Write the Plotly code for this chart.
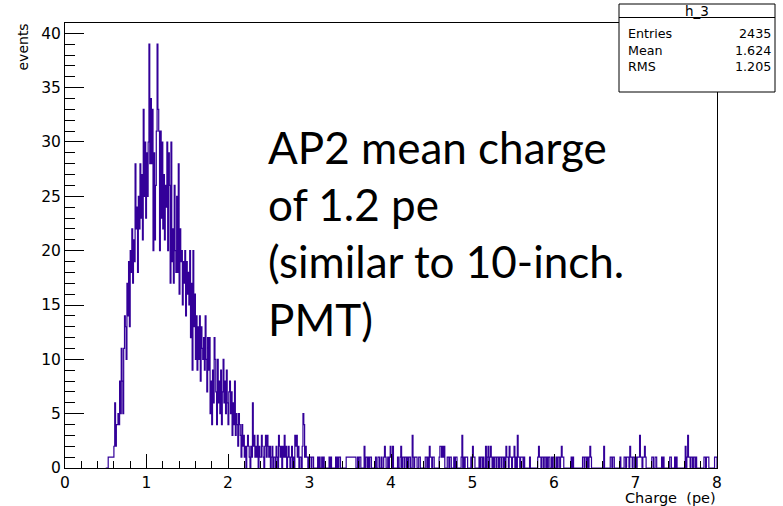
import numpy as np
import plotly.graph_objects as go

# ---------------- data ----------------
hist_name = "h_3"
stat_names = ["Entries", "Mean", "RMS"]
stat_values = ["2435", "1.624", "1.205"]
x_title = "Charge\u00a0\u00a0(pe)"
y_title = "events"
note_lines = ["AP2 mean charge", "of 1.2 pe", "(similar to 10-inch.", "PMT)"]

bin_width = 0.01
first_bin = 0.50

# bins 0.50 ... 2.29 (10 bins per row)
counts_peak = [
    0, 0, 0, 1, 1, 1, 1, 1, 1, 1,          # 0.5
    2, 6, 2, 4, 4, 5, 4, 8, 5, 11,         # 0.6
    8, 5, 11, 14, 13, 10, 17, 14, 19, 13,  # 0.7
    20, 18, 22, 17, 21, 19, 28, 22, 24, 18,  # 0.8
    25, 22, 28, 23, 27, 21, 33, 25, 30, 23,  # 0.9
    29, 25, 30, 39, 28, 34, 28, 33, 20, 29,  # 1.0
    21, 26, 31, 39, 33, 31, 20, 31, 23, 30,  # 1.1
    22, 27, 21, 26, 24, 30, 20, 29, 26, 17,  # 1.2
    30, 19, 22, 17, 26, 20, 18, 25, 18, 28,  # 1.3
    16, 22, 19, 20, 15, 19, 17, 20, 14, 19,  # 1.4
    16, 18, 15, 20, 12, 17, 9, 20, 13, 16,   # 1.5
    10, 14, 9, 13, 10, 14, 8, 13, 11, 10,    # 1.6
    12, 9, 14, 10, 7, 12, 9, 12, 5, 8,       # 1.7
    4, 9, 6, 12, 10, 7, 4, 10, 6, 8,         # 1.8
    5, 9, 4, 7, 10, 6, 8, 5, 9, 6,           # 1.9
    4, 7, 8, 5, 7, 3, 6, 4, 8, 3,            # 2.0
    5, 4, 2, 5, 4, 3, 1, 4, 2, 3,            # 2.1
    1, 2, 0, 2, 3, 2, 1, 0, 2, 1,            # 2.2
]

# bins 2.30 ... 7.99 (10 bins per row)
counts_tail = [
    6, 2, 3, 1, 2, 1, 3, 0, 2, 1,  # 2.3
    1, 3, 2, 1, 0, 2, 3, 1, 3, 2,  # 2.4
    1, 2, 0, 1, 2, 0, 1, 1, 0, 2,  # 2.5
    1, 0, 3, 2, 1, 2, 0, 2, 1, 3,  # 2.6
    1, 2, 0, 1, 2, 1, 0, 1, 2, 0,  # 2.7
    1, 0, 3, 2, 3, 1, 2, 0, 1, 1,  # 2.8
    0, 2, 5, 4, 1, 2, 1, 1, 0, 1,  # 2.9
    1, 1, 0, 1, 1, 0, 0, 0, 0, 0,  # 3.0
    1, 0, 1, 0, 0, 1, 0, 1, 0, 0,  # 3.1
    0, 0, 0, 0, 1, 0, 1, 0, 0, 0,  # 3.2
    0, 0, 1, 0, 1, 0, 1, 1, 0, 0,  # 3.3
    0, 0, 0, 0, 0, 1, 1, 1, 1, 1,  # 3.4
    1, 1, 1, 1, 1, 1, 1, 0, 0, 1,  # 3.5
    0, 1, 1, 0, 0, 0, 0, 2, 0, 1,  # 3.6
    1, 0, 1, 0, 1, 1, 0, 0, 0, 0,  # 3.7
    0, 1, 0, 0, 1, 1, 0, 0, 1, 0,  # 3.8
    0, 1, 2, 1, 0, 0, 1, 0, 1, 2,  # 3.9
    1, 0, 2, 0, 0, 0, 0, 0, 1, 0,  # 4.0
    0, 1, 2, 0, 1, 1, 0, 1, 1, 0,  # 4.1
    1, 0, 1, 1, 0, 0, 3, 1, 0, 1,  # 4.2
    1, 1, 0, 0, 1, 1, 0, 0, 0, 0,  # 4.3
    0, 0, 1, 1, 0, 1, 0, 2, 1, 1,  # 4.4
    0, 1, 1, 0, 0, 0, 0, 0, 0, 1,  # 4.5
    2, 2, 1, 2, 1, 2, 0, 0, 0, 1,  # 4.6
    1, 0, 1, 1, 0, 0, 0, 1, 0, 1,  # 4.7
    1, 0, 0, 0, 0, 0, 1, 3, 0, 1,  # 4.8
    0, 1, 1, 1, 0, 0, 0, 0, 1, 0,  # 4.9
    2, 1, 1, 0, 0, 0, 0, 0, 1, 0,  # 5.0
    1, 1, 0, 1, 0, 0, 2, 0, 1, 2,  # 5.1
    0, 1, 2, 1, 0, 1, 0, 1, 1, 0,  # 5.2
    1, 1, 0, 1, 1, 0, 1, 1, 0, 1,  # 5.3
    0, 2, 1, 1, 0, 2, 1, 1, 0, 1,  # 5.4
    1, 2, 0, 1, 0, 3, 1, 1, 0, 1,  # 5.5
    1, 1, 0, 1, 0, 0, 0, 0, 0, 0,  # 5.6
    1, 0, 0, 0, 0, 0, 0, 0, 0, 0,  # 5.7
    1, 2, 1, 1, 0, 1, 1, 0, 1, 1,  # 5.8
    0, 1, 0, 1, 1, 0, 0, 1, 0, 1,  # 5.9
    1, 0, 0, 1, 0, 1, 1, 0, 1, 2,  # 6.0
    1, 1, 0, 0, 0, 0, 0, 0, 0, 0,  # 6.1
    0, 1, 0, 1, 0, 0, 0, 0, 0, 0,  # 6.2
    0, 0, 0, 0, 0, 1, 1, 0, 1, 1,  # 6.3
    0, 1, 0, 1, 2, 1, 0, 0, 0, 0,  # 6.4
    0, 0, 0, 0, 0, 0, 0, 0, 0, 0,  # 6.5
    0, 2, 0, 0, 0, 0, 0, 0, 0, 1,  # 6.6
    1, 0, 1, 1, 0, 0, 0, 0, 0, 0,  # 6.7
    0, 1, 0, 0, 0, 0, 1, 1, 0, 1,  # 6.8
    1, 1, 0, 2, 1, 1, 0, 1, 1, 0,  # 6.9
    1, 0, 1, 1, 1, 3, 1, 1, 0, 1,  # 7.0
    1, 2, 1, 0, 0, 0, 0, 0, 0, 0,  # 7.1
    1, 1, 0, 0, 1, 1, 0, 0, 0, 0,  # 7.2
    0, 0, 1, 0, 1, 0, 0, 0, 0, 0,  # 7.3
    0, 0, 1, 1, 0, 0, 0, 0, 1, 0,  # 7.4
    1, 0, 0, 0, 0, 0, 0, 0, 0, 0,  # 7.5
    0, 2, 0, 1, 3, 1, 1, 0, 1, 1,  # 7.6
    0, 1, 1, 0, 1, 0, 0, 0, 0, 0,  # 7.7
    0, 0, 0, 0, 1, 1, 0, 1, 1, 1,  # 7.8
    0, 0, 0, 0, 0, 0, 0, 1, 1, 1,  # 7.9
]

counts = counts_peak + counts_tail
n_bins = len(counts)
lows = np.round(first_bin + bin_width * np.arange(n_bins), 4).tolist()
last_edge = round(lows[-1] + bin_width, 4)
xs = [first_bin] + lows + [last_edge, last_edge]
ys = [0] + counts + [counts[-1], 0]

# ---------------- layout geometry (pixels) ----------------
W, H = 783, 506
L, R, T, B = 65, 717, 23, 468


def fx(p):
    return (p - L) / (R - L)


def fy(p):
    return (B - p) / (B - T)


FONT = "DejaVu Sans, Verdana, sans-serif"
LINE = "#330099"

fig = go.Figure()
fig.add_trace(go.Scatter(
    x=xs, y=ys, mode="lines", line=dict(color=LINE, width=1.2, shape="hv"),
    hoverinfo="skip", showlegend=False,
))

axis_common = dict(
    showline=True, linecolor="black", linewidth=1, mirror=True,
    ticks="inside", tickcolor="black", tickwidth=1,
    showgrid=False, zeroline=False,
    tickfont=dict(family=FONT, size=15.5, color="black"),
)

fig.update_layout(
    width=W, height=H,
    margin=dict(l=L, r=W - R, t=T, b=H - B, pad=0),
    paper_bgcolor="white", plot_bgcolor="white",
    xaxis=dict(range=[0, 8], dtick=1, ticklen=14,
               minor=dict(dtick=0.2, ticklen=7, ticks="inside", tickcolor="black", showgrid=False),
               **axis_common),
    yaxis=dict(range=[0, 40.95], dtick=5, ticklen=19,
               minor=dict(dtick=1, ticklen=10, ticks="inside", tickcolor="black", showgrid=False),
               **axis_common),
)

# stats box
bx0, bx1, by0, by1, bdiv = 619, 775, 4, 92, 17.5
fig.add_shape(type="rect", xref="paper", yref="paper",
              x0=fx(bx0), x1=fx(bx1), y0=fy(by1), y1=fy(by0),
              line=dict(color="black", width=1), fillcolor="white", layer="above")
fig.add_shape(type="line", xref="paper", yref="paper",
              x0=fx(bx0), x1=fx(bx1), y0=fy(bdiv), y1=fy(bdiv),
              line=dict(color="black", width=1), layer="above")
fig.add_annotation(xref="paper", yref="paper", x=fx((bx0 + bx1) / 2), y=fy(10.5),
                   text=hist_name, showarrow=False, xanchor="center", yanchor="middle",
                   font=dict(family=FONT, size=13.5, color="black"))
stat_font = dict(family=FONT, size=12.7, color="black")
fig.add_annotation(xref="paper", yref="paper", x=fx(626), y=fy(50), text="<br>".join(stat_names),
                   showarrow=False, xanchor="left", yanchor="middle", align="left",
                   font=stat_font)
fig.add_annotation(xref="paper", yref="paper", x=fx(773), y=fy(50), text="<br>".join(stat_values),
                   showarrow=False, xanchor="right", yanchor="middle", align="right",
                   font=stat_font)

# axis titles
fig.add_annotation(xref="paper", yref="paper", x=fx(718), y=fy(497.5), text=x_title,
                   showarrow=False, xanchor="right", yanchor="middle",
                   font=dict(family=FONT, size=14.5, color="black"))
fig.add_annotation(xref="paper", yref="paper", x=fx(23), y=fy(22), text=y_title,
                   showarrow=False, xanchor="center", yanchor="top", textangle=-90,
                   font=dict(family=FONT, size=14, color="black"))

# big note text
fig.add_annotation(xref="paper", yref="paper", x=fx(266), y=fy(119),
                   text="<br>".join(note_lines), showarrow=False,
                   xanchor="left", yanchor="top", align="left",
                   font=dict(family="Lato, sans-serif", size=44, color="black"))

fig.write_html("out.html")
